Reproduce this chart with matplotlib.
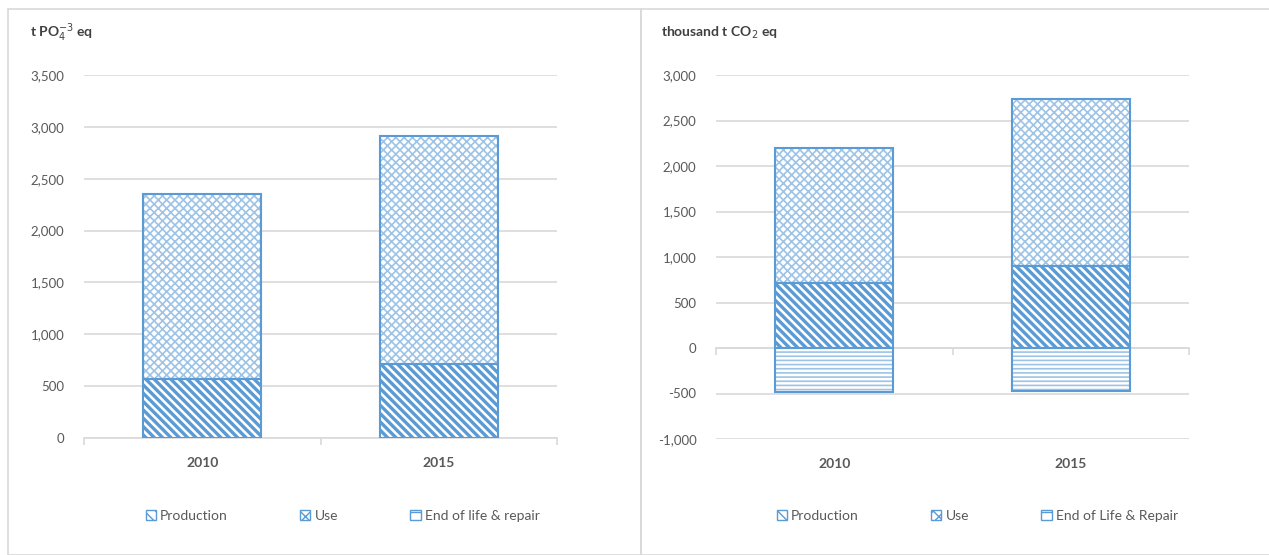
import matplotlib
matplotlib.use('Agg')
import matplotlib.pyplot as plt
from matplotlib.patches import Patch, Rectangle
from matplotlib.ticker import FuncFormatter
import numpy as np

plt.rcParams['font.family'] = ['Lato', 'DejaVu Sans']

years = ['2010', '2015']

# left panel: eutrophication, t PO4-3 eq
left_prod = [565, 713]
left_use = [1785, 2200]
left_eol = [0, 0]

# right panel: climate change, thousand t CO2 eq
right_prod = [718, 904]
right_use = [1480, 1832]
right_eol = [-480, -478]

left_labels = ['Production', 'Use', 'End of life & repair']
right_labels = ['Production', 'Use', 'End of Life & Repair']

BLUE = '#5B9BD5'
LIGHT = '#9DC3E6'
GRID = '#D9D9D9'
TXT = '#595959'

fig = plt.figure(figsize=(12.69, 5.55), dpi=100)
W, H = 1269, 555

# panel frames
fig.add_artist(Rectangle((8 / W, 0), (641 - 8) / W, (H - 9) / H, transform=fig.transFigure,
                         fill=False, edgecolor=GRID, lw=1.2))
fig.add_artist(Rectangle((641 / W, 0), (W - 641) / W + 0.01, (H - 9) / H, transform=fig.transFigure,
                         fill=False, edgecolor=GRID, lw=1.2))


def draw(ax, prod, use, eol, ylim, step, title, tx, labels, leg_x):
    x = np.arange(len(years))
    bw = 0.5
    # production
    with plt.rc_context({'hatch.linewidth': 2.4}):
        ax.bar(x, prod, bw, color='white', edgecolor=BLUE, hatch='\\\\\\\\', lw=0, zorder=2)
    ax.bar(x, prod, bw, fill=False, edgecolor=BLUE, lw=1.5, zorder=3)
    # use stacked on production
    with plt.rc_context({'hatch.linewidth': 1.2}):
        ax.bar(x, use, bw, bottom=prod, color='white', edgecolor=LIGHT, hatch='xxxx', lw=0, zorder=2)
    ax.bar(x, use, bw, bottom=prod, fill=False, edgecolor=BLUE, lw=1.5, zorder=3)
    # end of life (negative)
    if any(v != 0 for v in eol):
        with plt.rc_context({'hatch.linewidth': 1.2}):
            ax.bar(x, eol, bw, color='white', edgecolor=LIGHT, hatch='----', lw=0, zorder=2)
        ax.bar(x, eol, bw, fill=False, edgecolor=BLUE, lw=1.5, zorder=3)

    ax.set_xlim(-0.5, len(years) - 0.5)
    ax.set_ylim(*ylim)
    ax.set_yticks(np.arange(ylim[0], ylim[1] + 1, step))
    ax.yaxis.set_major_formatter(FuncFormatter(lambda v, p: f'{v:,.0f}'))
    ax.grid(axis='y', color=GRID, lw=1.2, zorder=0)
    for s in ax.spines.values():
        s.set_visible(False)
    ax.tick_params(axis='y', length=0, labelsize=9.5, labelcolor=TXT, pad=14)
    ax.set_xticks(x)
    ax.set_xticklabels(years, fontweight='bold', fontsize=10, color=TXT)
    ax.tick_params(axis='x', length=0, pad=14)

    # category axis line at zero with boundary ticks
    loc = (0 - ylim[0]) / (ylim[1] - ylim[0])
    sec = ax.secondary_xaxis(loc)
    sec.set_xticks(np.arange(len(years) + 1) - 0.5)
    sec.set_xticklabels([])
    sec.tick_params(length=5, color=GRID, width=1.2)
    sec.spines['bottom'].set_color(GRID)
    sec.spines['bottom'].set_linewidth(1.2)

    fig.text(tx / W, 1 - 33 / H, title, fontsize=10, fontweight='bold', color='#404040',
             va='center', ha='left')

    with plt.rc_context({'hatch.linewidth': 1.5}):
        handles = [
            Patch(facecolor='white', edgecolor=BLUE, hatch='\\\\\\', lw=1),
            Patch(facecolor='white', edgecolor=BLUE, hatch='xxx', lw=1),
            Patch(facecolor='white', edgecolor=BLUE, hatch='--', lw=1),
        ]
    fig.legend(handles, labels, loc='center left', bbox_to_anchor=(leg_x / W, 1 - 516 / H),
               ncol=3, frameon=False, fontsize=10, labelcolor=TXT, handlelength=0.75,
               handleheight=0.75, handletextpad=0.3, columnspacing=5.2)


ax1 = fig.add_axes([84 / W, 1 - 438 / H, (557 - 84) / W, (438 - 75) / H])
draw(ax1, left_prod, left_use, left_eol, (0, 3500), 500, r't PO$_4^{-3}$ eq', 30, left_labels, 133)

ax2 = fig.add_axes([716 / W, 1 - 439 / H, (1189 - 716) / W, (439 - 75) / H])
draw(ax2, right_prod, right_use, right_eol, (-1000, 3000), 500, r'thousand t CO$_2$ eq', 661,
     right_labels, 764)

fig.savefig('out.png', dpi=100)
